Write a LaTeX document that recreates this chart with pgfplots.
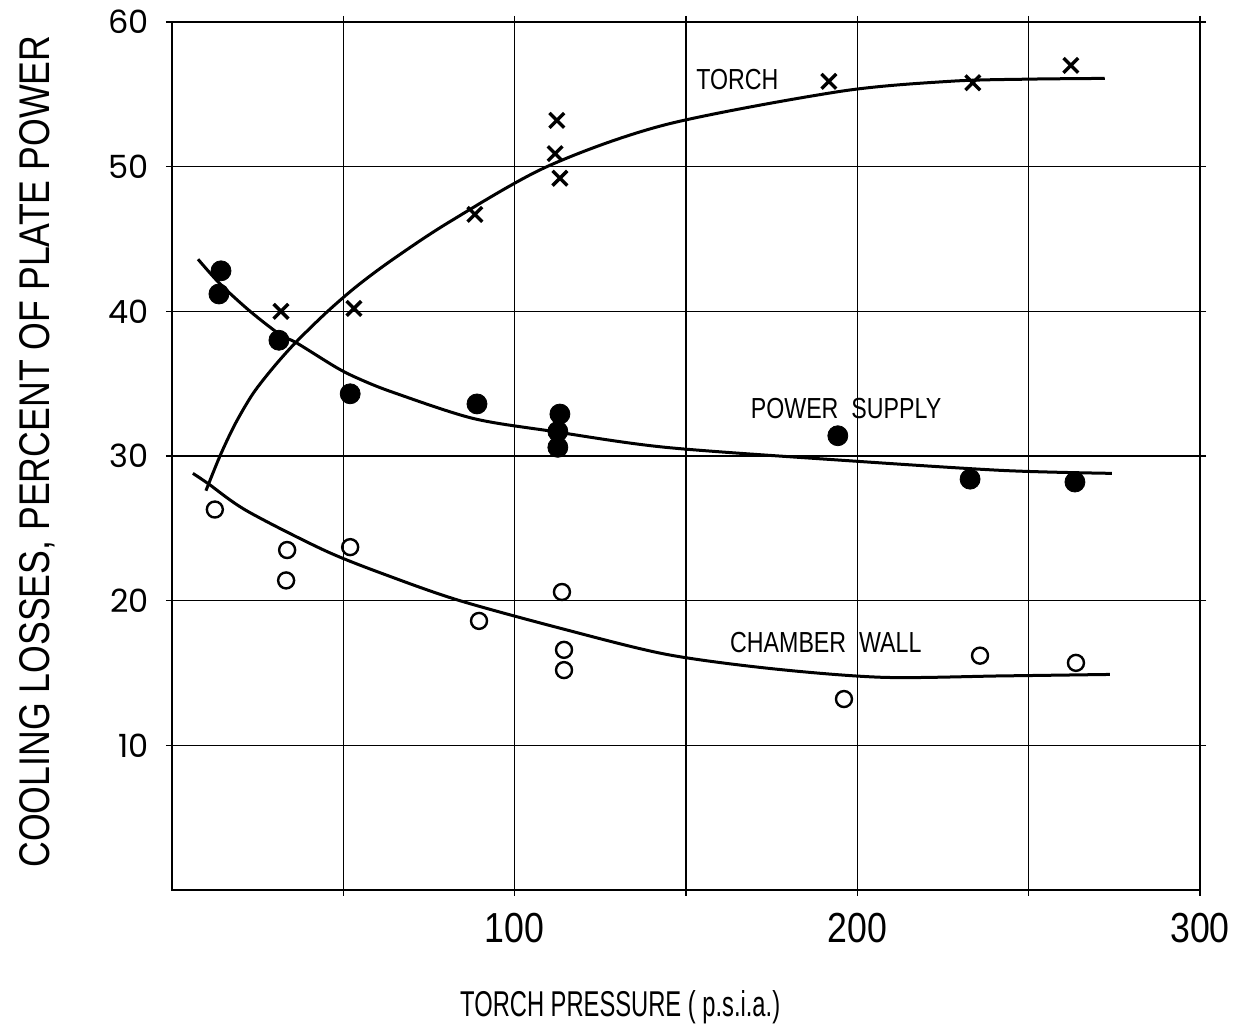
\documentclass[border=0pt]{standalone}
\usepackage{pgfplots}
\pgfplotsset{compat=1.18}
\usepackage{fontspec}
\setmainfont{Liberation Sans}
\newfontfamily\pop{Poppins}
\newcommand{\lab}[1]{\scalebox{0.8}[1]{\fontsize{14.5}{16}\selectfont #1}}
\newcommand{\xl}[1]{\scalebox{0.85}[1]{#1}}
\begin{document}
\begin{tikzpicture}
\begin{axis}[
 scale only axis, width=514pt, height=434pt,
 xmin=0, xmax=300, ymin=0, ymax=60,
 xtick={50,100,...,300}, xticklabels={,\xl{100},,\xl{200},,\xl{300}},
 ytick={10,20,...,60}, yticklabels={10,20,30,40,50,60},
 grid=major, major grid style={black, line width=0.7pt},
 axis line style={line width=0.9pt},
 tick align=outside, major tick length=3pt, tick style={black, line width=0.7pt},
 x tick label style={font=\fontsize{21}{24}\selectfont, yshift=-5pt},
 y tick label style={font=\pop\fontsize{16}{18}\selectfont, xshift=-5pt},
 /pgf/number format/assume math mode=true,
 xlabel={\resizebox{160pt}{13pt}{\fontsize{20}{24}\selectfont TORCH PRESSURE ( p.s.i.a.)}},
 xlabel style={at={(axis description cs:0.436,-0.135)}, anchor=center},
 ylabel={\resizebox{416pt}{15pt}{\fontsize{20}{24}\selectfont COOLING LOSSES, PERCENT OF PLATE POWER}},
 ylabel style={at={(axis description cs:-0.131,0.505)}, anchor=center},
 clip=false,
]
% curves
\addplot[black, line width=1.5pt, smooth, tension=0.5] coordinates {
(9.9,27.6) (14.0,30.0) (18.4,32.2) (23.6,34.3) (29.5,36.1) (35.9,37.8) (45.2,39.95)
(54.0,41.75) (64.5,43.6) (81.1,46.2) (109.4,50.0) (144,52.9) (194.9,55.2) (227,55.9)
(250,56.05) (272.2,56.1)};
\addplot[black, line width=1.5pt, smooth, tension=0.5] coordinates {
(7.6,43.6) (14,41.9) (22.8,40.0) (31.5,38.4) (36.5,37.8) (48.1,36.1) (54.9,35.3)
(64.5,34.4) (87.8,32.6) (111.2,31.7) (144,30.6) (195.8,29.7) (242.5,29.0) (274.3,28.8)};
\addplot[black, line width=1.5pt, smooth, tension=0.5] coordinates {
(6.1,28.8) (10.5,28.1) (21.9,26.2) (45.2,23.4) (64.5,21.6) (84.0,20.0) (113.2,18.1)
(144,16.3) (175,15.3) (207.5,14.7) (242.5,14.8) (273.7,14.9)};
% power supply
\addplot[only marks, mark=*, mark size=5pt, black] coordinates {
(14.3,42.8) (13.7,41.2) (31.2,38.0) (52,34.3) (89,33.6) (113.2,32.9) (112.6,31.7)
(112.6,30.6) (194.3,31.4) (232.9,28.4) (263.5,28.2)};
% torch
\addplot[only marks, mark=x, mark size=5.2pt, black, mark options={line width=1.7pt}] coordinates {
(31.8,40.0) (53.1,40.2) (88.4,46.7) (112.3,53.2) (111.8,50.9) (113.2,49.2)
(191.7,55.9) (233.7,55.8) (262.3,57.0)};
% chamber wall
\addplot[only marks, mark=o, mark size=4pt, black, mark options={line width=1.2pt}] coordinates {
(12.5,26.3) (33.6,23.5) (33.3,21.4) (52,23.7) (89.6,18.6) (113.8,20.6) (114.4,16.6)
(114.4,15.2) (196.1,13.2) (235.8,16.2) (263.8,15.7)};
\node at (axis cs:165,56) {\lab{TORCH}};
\node at (axis cs:196.7,33.3) {\lab{POWER\ \ SUPPLY}};
\node at (axis cs:190.8,17.1) {\lab{CHAMBER\ \ WALL}};
\end{axis}
\pgfresetboundingbox
\path[use as bounding box] (-86pt,-71pt) rectangle (534.5pt,445pt);
\end{tikzpicture}
\end{document}
